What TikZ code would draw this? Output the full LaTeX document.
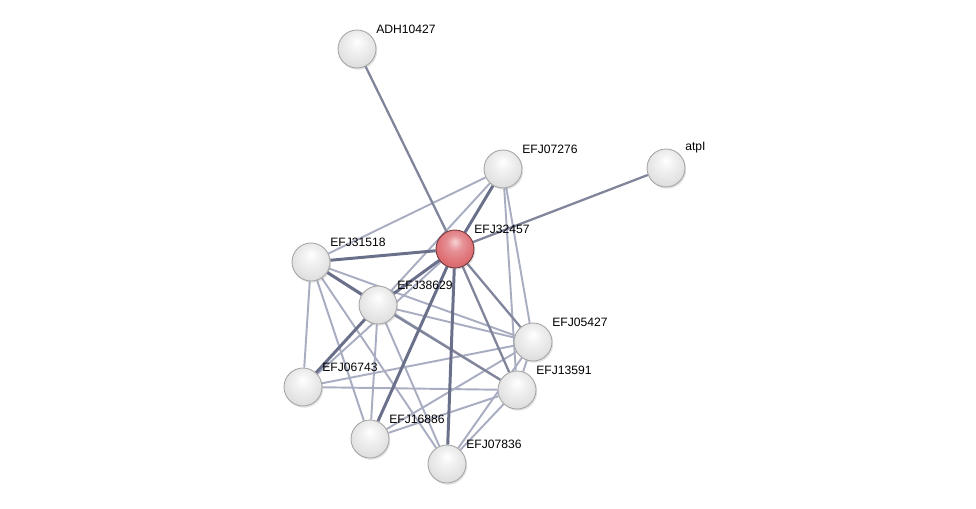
\documentclass[tikz,border=0pt]{standalone}
\usepackage{fontspec}
\setmainfont{Liberation Sans}
\usepackage{tikz}
\usetikzlibrary{backgrounds,shadows}
\definecolor{edgedark}{HTML}{6A7089}
\definecolor{edgelight}{HTML}{A9ADC1}
\definecolor{hubred}{HTML}{DE6F74}
\pgfdeclareradialshading{protball}{\pgfpoint{0bp}{10bp}}{color(0bp)=(white);
  color(10bp)=(gray!10); color(24bp)=(gray!22); color(34bp)=(gray!32);
  color(42bp)=(gray!48); color(50bp)=(gray!65)}
\pgfdeclareradialshading{hubball}{\pgfpoint{0bp}{10bp}}{color(0bp)=(hubred!30!white);
  color(10bp)=(hubred!75!white); color(24bp)=(hubred); color(34bp)=(hubred!90!black);
  color(42bp)=(hubred!75!black); color(50bp)=(hubred!55!black)}

\begin{document}
\begin{tikzpicture}[
  x=0.02cm, y=-0.02cm,
  prot/.style={
    circle, minimum size=0.76cm, inner sep=0pt, draw=gray!70, line width=0.5pt,
    shading=protball,
    drop shadow={opacity=0.22, shadow xshift=0.7pt, shadow yshift=-1pt},
    label={[lbl]north east:#1}
  },
  hub/.style={prot=#1, shading=hubball, draw=hubred!50!black},
  lbl/.style={anchor=south west, inner sep=0pt, xshift=3pt, yshift=0.5pt,
    font=\fontsize{6.9}{8}\selectfont},
  lnk/.style={edgelight, line width=1.1pt},
  lnkm/.style={edgedark!85, line width=1.3pt},
  lnks/.style={edgedark, line width=1.7pt}
]
\useasboundingbox (0,0) rectangle (976,509);

\node[prot=ADH10427] (adh) at (357,49) {};
\node[prot=EFJ07276] (e07276) at (503,169) {};
\node[prot=atpI] (atpi) at (666,168) {};
\node[hub=EFJ32457] (e32457) at (455,249) {};
\node[prot=EFJ31518] (e31518) at (311,262) {};
\node[prot=EFJ38629] (e38629) at (378,305) {};
\node[prot=EFJ05427] (e05427) at (533,342) {};
\node[prot=EFJ06743] (e06743) at (303,387) {};
\node[prot=EFJ13591] (e13591) at (517,390) {};
\node[prot=EFJ16886] (e16886) at (370,439) {};
\node[prot=EFJ07836] (e07836) at (447,464) {};

\begin{scope}[on background layer]
% weak links
\foreach \a/\b in {e07276/e31518, e07276/e38629, e07276/e05427, e07276/e13591,
    e31518/e05427, e31518/e13591, e31518/e06743, e31518/e16886, e31518/e07836,
    e38629/e05427, e38629/e16886, e38629/e07836, e32457/e06743,
    e06743/e05427, e06743/e13591, e16886/e05427, e16886/e13591,
    e07836/e13591, e07836/e05427, e05427/e13591}
  \draw[lnk] (\a) -- (\b);
% medium links
\foreach \a/\b in {adh/e32457, atpi/e32457, e32457/e05427, e32457/e13591,
    e38629/e13591}
  \draw[lnkm] (\a) -- (\b);
% strong links
\foreach \a/\b in {e07276/e32457, e31518/e32457, e31518/e38629, e38629/e32457,
    e38629/e06743, e32457/e16886, e32457/e07836}
  \draw[lnks] (\a) -- (\b);
\end{scope}

\end{tikzpicture}
\end{document}
